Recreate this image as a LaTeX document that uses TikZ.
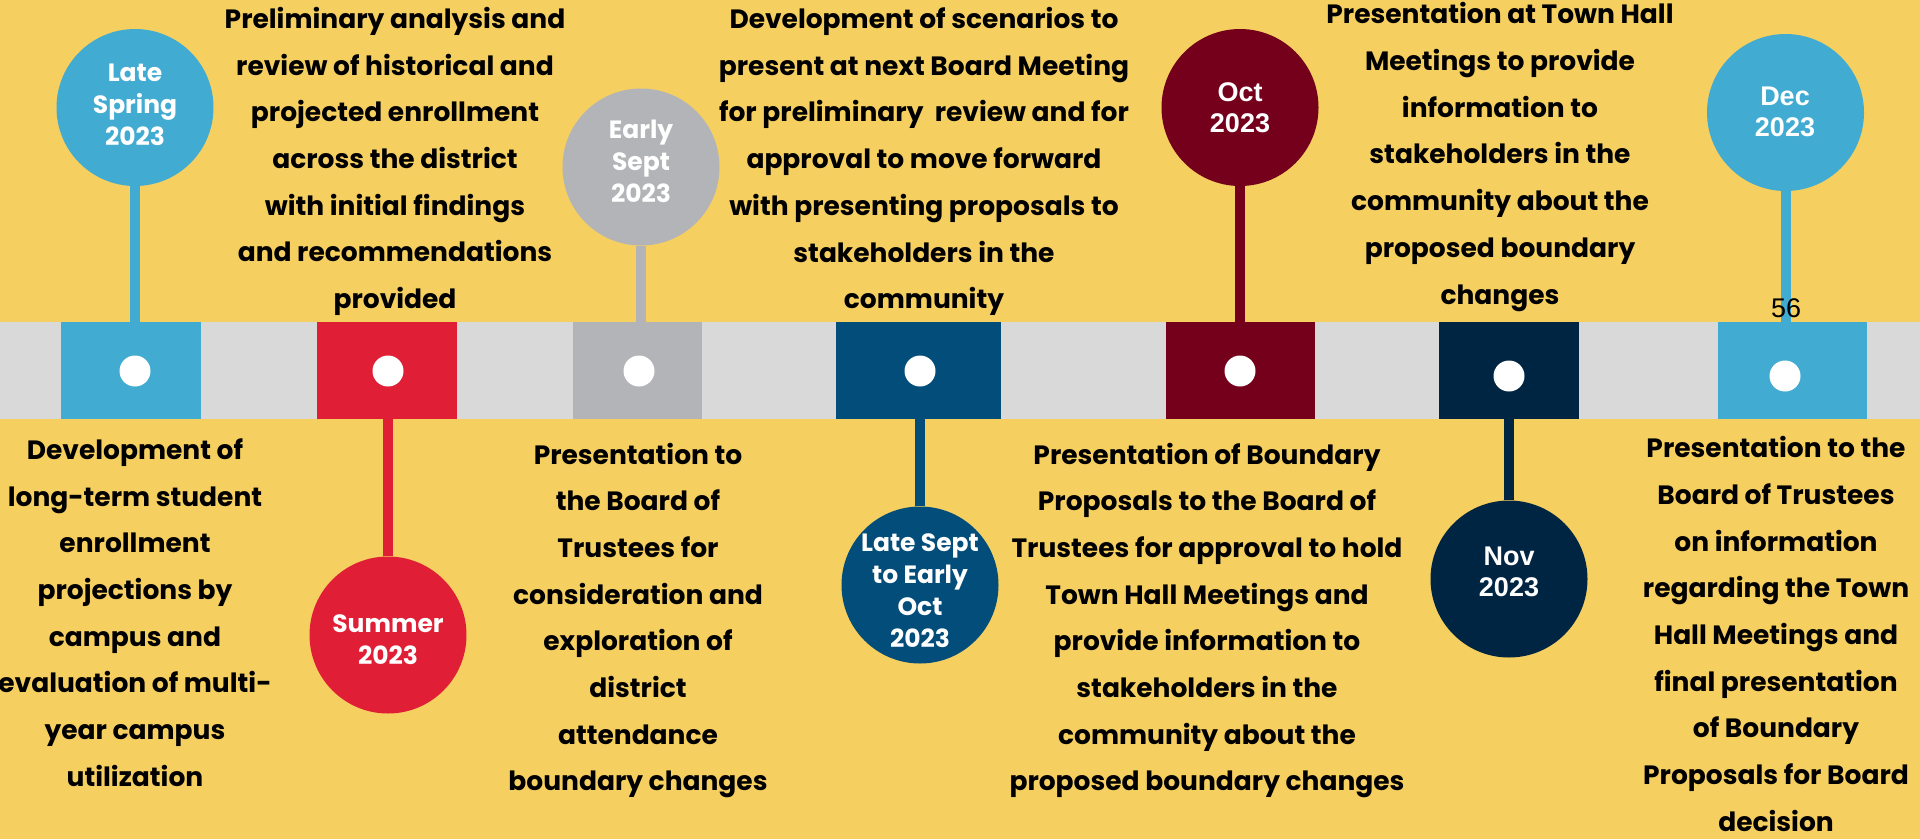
\documentclass[tikz,border=0pt]{standalone}
\usepackage{fontspec}
\setmainfont{Poppins}
\newfontfamily\numfont{Liberation Sans}
\usetikzlibrary{positioning}

\definecolor{sand}{HTML}{F5CF60}
\definecolor{band}{HTML}{D9D9D9}
\definecolor{sky}{HTML}{41ABD2}
\definecolor{ruby}{HTML}{E01F36}
\definecolor{ash}{HTML}{B3B4B8}
\definecolor{ocean}{HTML}{034D7A}
\definecolor{wine}{HTML}{74001C}
\definecolor{night}{HTML}{002542}

\tikzset{
  stop/.style={circle,minimum size=157pt,inner sep=0pt},
  block/.style={minimum height=97pt,inner sep=0pt},
  dot/.style={circle,fill=white,minimum size=31pt,inner sep=0pt},
  when/.style={text=white,align=center,inner sep=0pt,font=\bfseries\fontsize{25}{32}\selectfont},
  whennum/.style={text=white,align=center,inner sep=0pt,font=\numfont\bfseries\fontsize{27}{31}\selectfont},
  note/.style={align=center,inner sep=0pt,font=\bfseries\fontsize{26.5}{46.7}\selectfont},
  stem/.style={line width=10pt}
}

\begin{document}
\begin{tikzpicture}[x=1pt,y=-1pt]
  \fill[sand] (0,0) rectangle (1920,839);
  \useasboundingbox (0,0) rectangle (1920,839);
  \fill[band] (0,322) rectangle (1920,419);

  % squares on the band
  \node[block,fill=sky,minimum width=140pt] (sq1) at (131,370.5) {};
  \node[block,fill=ruby,minimum width=140pt] (sq2) at (387,370.5) {};
  \node[block,fill=ash,minimum width=129pt] (sq3) at (637.5,370.5) {};
  \node[block,fill=ocean,minimum width=165pt] (sq4) at (918.5,370.5) {};
  \node[block,fill=wine,minimum width=149pt] (sq5) at (1240.5,370.5) {};
  \node[block,fill=night,minimum width=140pt] (sq6) at (1509,370.5) {};
  \node[block,fill=sky,minimum width=149pt] (sq7) at (1792.5,370.5) {};

  \node[dot] (d1) at (135,371) {};
  \node[dot] (d2) at (388,371) {};
  \node[dot] (d3) at (639,371) {};
  \node[dot] (d4) at (920,371) {};
  \node[dot] (d5) at (1240,371) {};
  \node[dot] (d6) at (1509,376) {};
  \node[dot] (d7) at (1785,376) {};

  % circles above
  \node[stop,fill=sky] (c1) at (135,107.5) {};
  \node[stop,fill=ash] (c3) at (641,167) {};
  \node[stop,fill=wine] (c5) at (1240,107.5) {};
  \node[stop,fill=sky] (c7) at (1785.5,112.5) {};
  \draw[stem,sky] (c1.south) -- (c1.south |- sq1.north);
  \draw[stem,ash] (c3.south) -- (c3.south |- sq3.north);
  \draw[stem,wine] (c5.south) -- (c5.south |- sq5.north);
  \draw[stem,sky] (c7.south) -- (c7.south |- sq7.north);

  % circles below
  \node[stop,fill=ruby] (c2) at (388,635) {};
  \node[stop,fill=ocean] (c4) at (920,585) {};
  \node[stop,fill=night] (c6) at (1509,579) {};
  \draw[stem,ruby] (c2.north) -- (c2.north |- sq2.south);
  \draw[stem,ocean] (c4.north) -- (c4.north |- sq4.south);
  \draw[stem,night] (c6.north) -- (c6.north |- sq6.south);

  \node[when] (t1) at (135,105) {Late\\Spring\\2023};
  \node[when] (t2) at (388,640) {Summer\\2023};
  \node[when] (t3) at (641,161) {Early\\Sept\\2023};
  \node[when] (t4) at (920,591) {Late Sept\\to Early\\Oct\\2023};
  \node[whennum] (t5) at (1240,108) {Oct\\2023};
  \node[whennum] (t6) at (1509,572) {Nov\\2023};
  \node[whennum] (t7) at (1785,112) {Dec\\2023};

  \node[font=\numfont\fontsize{27}{30}\selectfont] (pg) at (1786,308) {56};

  % descriptions
  \node[note] (n1) at (135,612.5) {Development of\\long-term student\\enrollment\\projections by\\campus and\\evaluation of multi-\\year campus\\utilization};
  \node[note] (n2) at (395,161.5) {Preliminary analysis and\\review of historical and\\projected enrollment\\across the district\\with initial findings\\and recommendations\\provided};
  \node[note] (n3) at (638,620.5) {Presentation to\\the Board of\\Trustees for\\consideration and\\exploration of\\district\\attendance\\boundary changes};
  \node[note] (n4) at (924,161.5) {Development of scenarios to\\present at next Board Meeting\\for preliminary~ review and for\\approval to move forward\\with presenting proposals to\\stakeholders in the\\community};
  \node[note] (n5) at (1207,620.5) {Presentation of Boundary\\Proposals to the Board of\\Trustees for approval to hold\\Town Hall Meetings and\\provide information to\\stakeholders in the\\community about the\\proposed boundary changes};
  \node[note] (n6) at (1500,157) {Presentation at Town Hall\\Meetings to provide\\information to\\stakeholders in the\\community about the\\proposed boundary\\changes};
  \node[note] (n7) at (1776,634) {Presentation to the\\Board of Trustees\\on information\\regarding the Town\\Hall Meetings and\\final presentation\\of Boundary\\Proposals for Board\\decision};
\end{tikzpicture}
\end{document}
